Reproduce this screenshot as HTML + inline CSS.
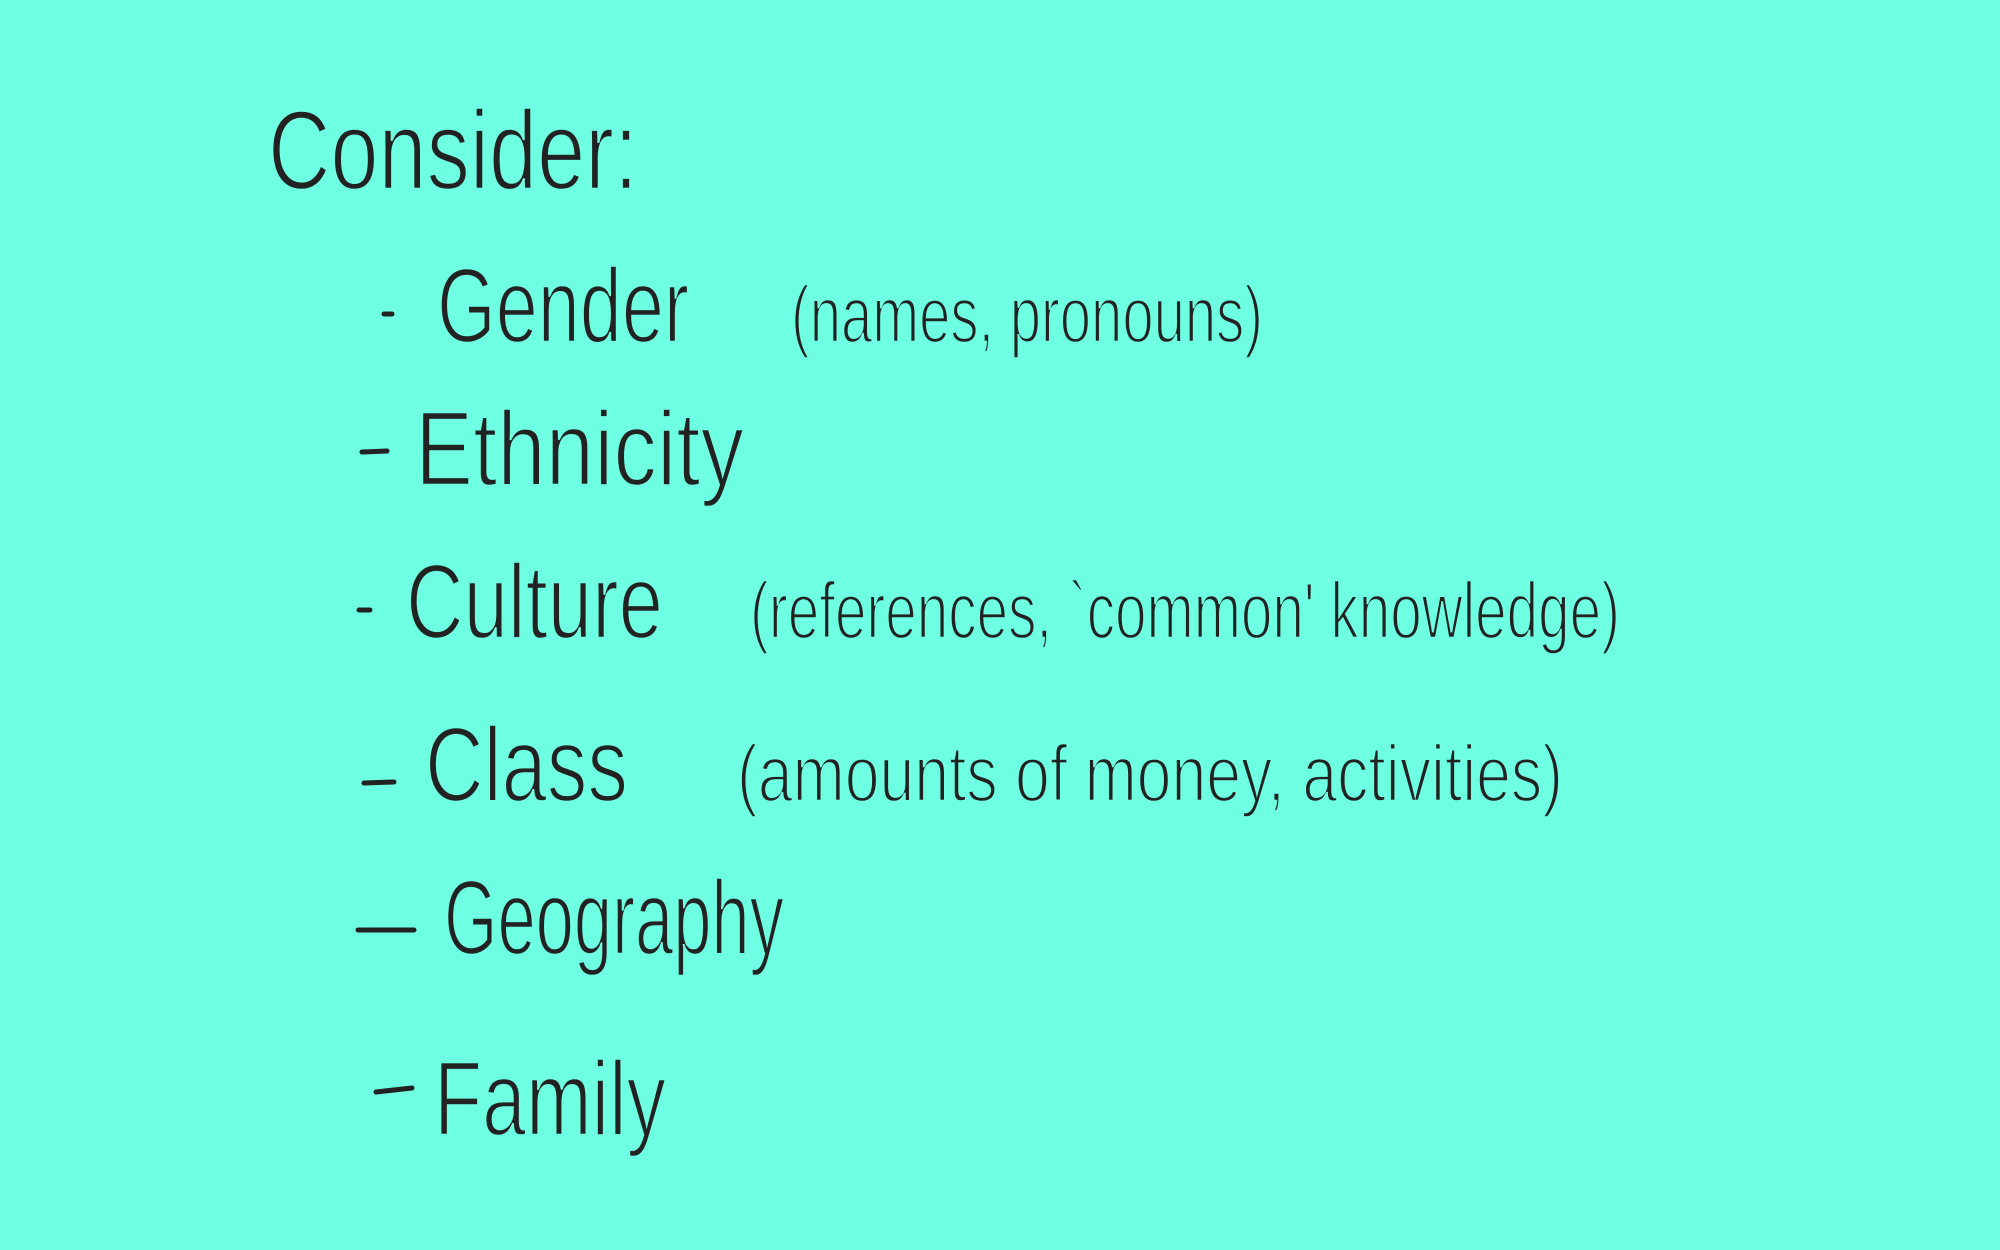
<!DOCTYPE html>
<html><head><meta charset="utf-8"><style>
html,body{margin:0;padding:0;background:#6efee2;}
svg{display:block}
text{font-family:"Liberation Sans",sans-serif;fill:#222;stroke:#6efee2;stroke-width:2.5px;}
</style></head><body>
<svg width="2000" height="1250" viewBox="0 0 2000 1250">
<rect width="2000" height="1250" fill="#6efee2"/>
<text x="268" y="189" font-size="112" textLength="370" lengthAdjust="spacingAndGlyphs">Consider:</text>

<line x1="384" y1="314" x2="392" y2="314" stroke="#222" stroke-width="5" stroke-linecap="round"/>
<text x="437" y="342" font-size="106" textLength="252" lengthAdjust="spacingAndGlyphs">Gender</text>
<text x="791" y="342" font-size="80" textLength="472" lengthAdjust="spacingAndGlyphs">(names, pronouns)</text>

<line x1="362" y1="452" x2="387" y2="451" stroke="#222" stroke-width="5" stroke-linecap="round"/>
<text x="415" y="485" font-size="106" textLength="329" lengthAdjust="spacingAndGlyphs">Ethnicity</text>

<line x1="359" y1="610" x2="370" y2="610" stroke="#222" stroke-width="5" stroke-linecap="round"/>
<text x="406" y="638" font-size="106" textLength="257" lengthAdjust="spacingAndGlyphs">Culture</text>
<text x="750" y="638" font-size="80" textLength="870" lengthAdjust="spacingAndGlyphs">(references, `common' knowledge)</text>

<line x1="364" y1="783" x2="394" y2="782" stroke="#222" stroke-width="5" stroke-linecap="round"/>
<text x="425" y="801" font-size="106" textLength="203" lengthAdjust="spacingAndGlyphs">Class</text>
<text x="737" y="801" font-size="80" textLength="826" lengthAdjust="spacingAndGlyphs">(amounts of money, activities)</text>

<line x1="358" y1="930" x2="414" y2="930" stroke="#222" stroke-width="5" stroke-linecap="round"/>
<text x="444" y="954" font-size="106" textLength="340" lengthAdjust="spacingAndGlyphs">Geography</text>

<line x1="376" y1="1092" x2="412" y2="1088" stroke="#222" stroke-width="5" stroke-linecap="round"/>
<text x="434" y="1135" font-size="106" textLength="232" lengthAdjust="spacingAndGlyphs">Family</text>
</svg>
</body></html>
